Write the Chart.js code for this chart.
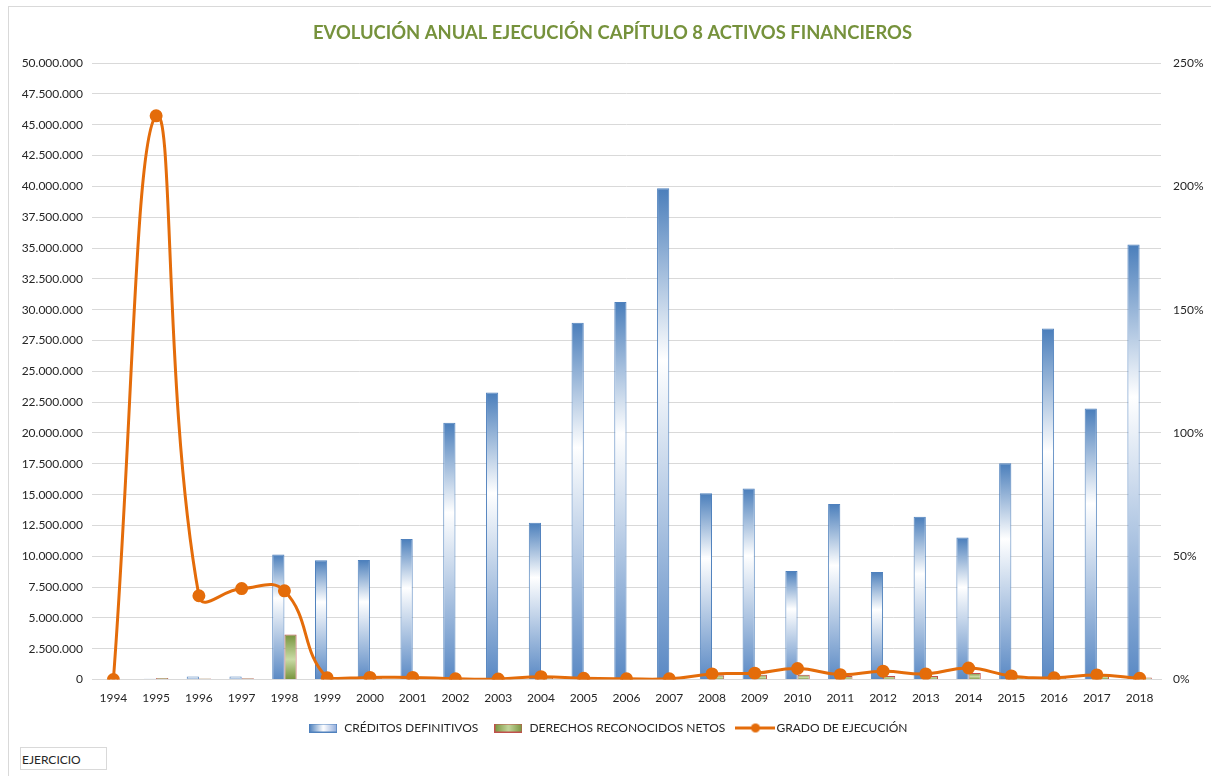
<!DOCTYPE html>
<html>
<head>
<meta charset="utf-8">
<script src="https://cdn.jsdelivr.net/npm/chart.js@4.4.0/dist/chart.umd.min.js"></script>
<style>
  body { margin: 0; background: #fff; }
  #wrap { position: absolute; left: 0; top: 0; width: 1211px; height: 776px; }
  #frame { position: absolute; left: 8px; top: 6px; width: 1300px; height: 900px; border: 1px solid #D9D9D9; }
  #ejercicio {
    position: absolute; left: 20px; top: 747px; width: 84px; height: 21px;
    border: 1px solid #D9D9D9; font: 12px Lato, sans-serif; color: #262626;
    line-height: 23px; padding-left: 1px; background: #fff;
  }
  canvas { position: absolute; left: 0; top: 0; }
</style>
</head>
<body>
<div id="wrap">
  <div id="frame"></div>
  <canvas id="capChart" width="1211" height="776"></canvas>
  <div id="ejercicio">EJERCICIO</div>
</div>
<script>
    // Values
    const years = ['1994', '1995', '1996', '1997', '1998', '1999', '2000', '2001', '2002', '2003', '2004', '2005',
        '2006', '2007', '2008', '2009', '2010', '2011', '2012', '2013', '2014', '2015', '2016', '2017', '2018'];
    const creditosDefinitivos = [50000, 60000, 250000, 250000, 10150000, 9680000, 9700000, 11410000, 20840000,
        23280000, 12730000, 28950000, 30630000, 39850000, 15110000, 15490000, 8810000, 14250000, 8730000,
        13200000, 11520000, 17540000, 28470000, 21980000, 35280000];
    const derechosReconocidos = [0, 120000, 90000, 100000, 3650000, 70000, 100000, 110000, 60000, 50000, 150000,
        150000, 90000, 120000, 350000, 400000, 400000, 290000, 300000, 300000, 540000, 260000, 200000, 420000, 180000];
    const gradoEjecucion = [0, 228.6, 34, 36.9, 36, 0.7, 0.9, 0.9, 0.3, 0.2, 1.2, 0.5, 0.3, 0.3, 2.3, 2.6, 4.5,
        2, 3.4, 2.3, 4.7, 1.5, 0.7, 1.9, 0.5];

    const BLUE = '#4F81BD';
    const GREEN = '#77933C';
    const ORANGE = '#E46C0A';
    const FONT = 'Lato, "Open Sans", sans-serif';

    // thousands with dots, like the Spanish Excel format
    function miles(v) {
        return String(Math.round(v)).replace(/\B(?=(\d{3})+(?!\d))/g, '.');
    }

    // vertical gradient from the top of each bar to the axis
    function barGradient(ctx, stops) {
        const chart = ctx.chart;
        if (!chart.chartArea || ctx.raw == null) return stops[0][1];
        const yScale = chart.scales.y;
        const top = yScale.getPixelForValue(ctx.raw);
        const bottom = yScale.getPixelForValue(0);
        if (bottom - top < 1) return stops[stops.length - 1][1];
        const g = chart.ctx.createLinearGradient(0, top, 0, bottom);
        stops.forEach(s => g.addColorStop(s[0], s[1]));
        return g;
    }

    // small legend markers drawn on their own canvases
    function legendMarker(kind) {
        const c = document.createElement('canvas');
        const x = c.getContext('2d');
        if (kind === 'line') {
            c.width = 40; c.height = 11;
            x.strokeStyle = ORANGE; x.lineWidth = 3;
            x.beginPath(); x.moveTo(0, 5.5); x.lineTo(40, 5.5); x.stroke();
            x.fillStyle = ORANGE;
            x.beginPath(); x.arc(20, 5.5, 4.5, 0, Math.PI * 2); x.fill();
            return c;
        }
        c.width = 28; c.height = 9;
        const g = x.createLinearGradient(0, 0, 28, 0);
        if (kind === 'blue') {
            g.addColorStop(0, BLUE); g.addColorStop(0.5, '#FFFFFF'); g.addColorStop(1, '#8EAADB');
            x.fillStyle = g; x.fillRect(0, 0, 28, 9);
            x.strokeStyle = BLUE;
        } else {
            g.addColorStop(0, GREEN); g.addColorStop(0.5, '#C3D69B'); g.addColorStop(1, GREEN);
            x.fillStyle = g; x.fillRect(0, 0, 28, 9);
            x.strokeStyle = '#C0504D';
        }
        x.lineWidth = 1; x.strokeRect(0.5, 0.5, 27, 8);
        return c;
    }

    const markers = [legendMarker('blue'), legendMarker('green'), legendMarker('line')];

    const ctx = document.getElementById('capChart').getContext('2d');

    const capChart = new Chart(ctx, {
        type: 'bar',
        data: {
            labels: years,
            datasets: [
                {
                    label: 'CRÉDITOS DEFINITIVOS',
                    data: creditosDefinitivos,
                    yAxisID: 'y',
                    order: 2,
                    backgroundColor: c => barGradient(c, [[0, '#4A7EBB'], [0.35, '#FFFFFF'], [1, '#5A89C4']]),
                    borderColor: BLUE,
                    borderWidth: 1,
                    categoryPercentage: 0.57,
                    barPercentage: 1
                },
                {
                    label: 'DERECHOS RECONOCIDOS NETOS',
                    data: derechosReconocidos,
                    yAxisID: 'y',
                    order: 2,
                    backgroundColor: c => barGradient(c, [[0, GREEN], [0.55, '#C9DBA5'], [1, GREEN]]),
                    borderColor: '#C0504D',
                    borderWidth: 1,
                    categoryPercentage: 0.57,
                    barPercentage: 1
                },
                {
                    type: 'line',
                    label: 'GRADO DE EJECUCIÓN',
                    data: gradoEjecucion,
                    yAxisID: 'y1',
                    order: 0,
                    borderColor: ORANGE,
                    backgroundColor: ORANGE,
                    borderWidth: 3,
                    tension: 0.45,
                    pointRadius: 5,
                    pointBackgroundColor: ORANGE,
                    pointBorderColor: ORANGE,
                    fill: false
                }
            ]
        },
        options: {
            responsive: false,
            animation: false,
            layout: { padding: { left: 14, right: 0, top: 10, bottom: 32 } },
            plugins: {
                title: {
                    display: true,
                    text: 'EVOLUCIÓN ANUAL EJECUCIÓN CAPÍTULO 8 ACTIVOS FINANCIEROS',
                    color: '#76923C',
                    font: { family: FONT, size: 18.4, weight: 'bold' },
                    padding: { top: 12, bottom: 19 }
                },
                legend: {
                    position: 'bottom',
                    labels: {
                        color: '#262626',
                        font: { family: FONT, size: 12 },
                        usePointStyle: true,
                        pointStyleWidth: 30,
                        padding: 6,
                        generateLabels: chart => chart.data.datasets.map((ds, i) => ({
                            text: ds.label + '   ',
                            pointStyle: markers[i],
                            fillStyle: 'transparent',
                            strokeStyle: 'transparent',
                            lineWidth: 0,
                            fontColor: '#262626',
                            datasetIndex: i
                        }))
                    }
                },
                tooltip: { enabled: false }
            },
            scales: {
                x: {
                    grid: { display: false, drawTicks: false },
                    border: { display: true, color: '#D9D9D9' },
                    ticks: { color: '#262626', font: { family: FONT, size: 12 }, padding: 11, maxRotation: 0 }
                },
                y: {
                    position: 'left',
                    min: 0,
                    max: 50000000,
                    afterFit: s => { s.width = 78; },
                    grid: { color: '#D9D9D9', drawTicks: false },
                    border: { display: false },
                    ticks: {
                        stepSize: 2500000,
                        padding: 9,
                        color: '#262626',
                        font: { family: FONT, size: 12 },
                        callback: v => miles(v)
                    }
                },
                y1: {
                    position: 'right',
                    min: 0,
                    max: 250,
                    afterFit: s => { s.width = 50; },
                    grid: { display: false, drawTicks: false },
                    border: { display: false },
                    ticks: {
                        stepSize: 50,
                        padding: 12,
                        color: '#262626',
                        font: { family: FONT, size: 12 },
                        callback: v => v + '%'
                    }
                }
            }
        }
    });
</script>
</body>
</html>
